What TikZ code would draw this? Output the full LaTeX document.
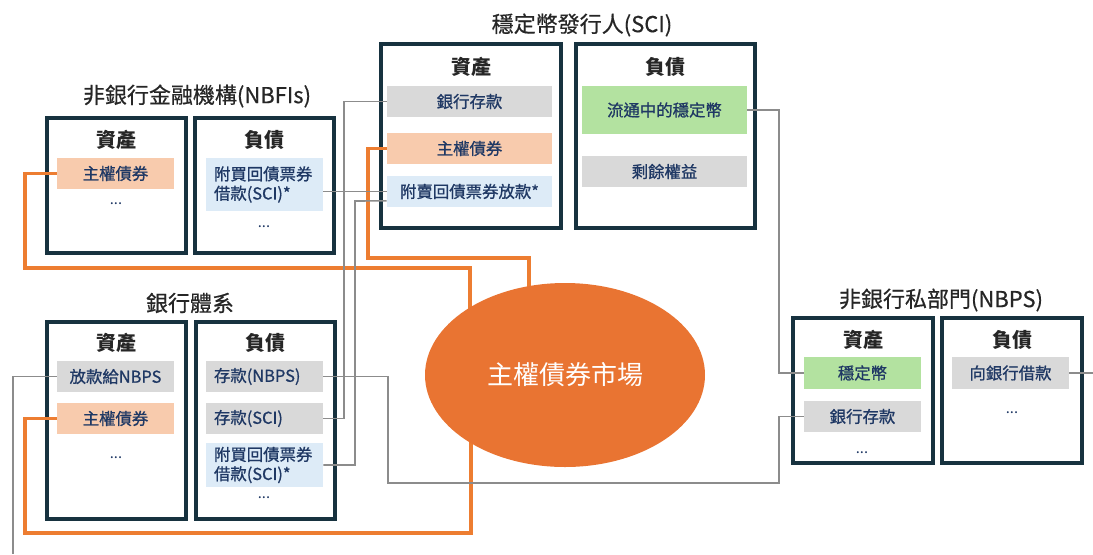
\documentclass[tikz,border=0pt]{standalone}
\usepackage{fontspec}
\setmainfont{Noto Sans CJK TC}
\newfontfamily\medfont[RawFeature={embolden=0.9}]{Noto Sans CJK TC}
\newfontfamily\ttlfont[RawFeature={embolden=0.5}]{Noto Sans CJK TC}
\usetikzlibrary{shapes.geometric}
\definecolor{boxc}{HTML}{17323F}
\definecolor{navy}{HTML}{1F3864}
\definecolor{hdrc}{HTML}{262626}
\definecolor{salmon}{HTML}{F8CBAD}
\definecolor{lblue}{HTML}{DDEBF7}
\definecolor{lgray}{HTML}{D9D9D9}
\definecolor{lgreen}{HTML}{B3E2A0}
\definecolor{orl}{HTML}{ED7D31}
\definecolor{ellc}{HTML}{E97432}
\definecolor{grl}{HTML}{8C8C8C}
\tikzset{
  grp/.style={draw=boxc, line width=2.3pt, inner sep=0},
  sz/.style 2 args={minimum width=#1*0.75pt, minimum height=#2*0.75pt},
  item/.style={inner sep=0, text=navy, font=\medfont\fontsize{12.3}{14.5}\selectfont},
  litem/.style={item, align=left, text width=75.75pt, inner xsep=6pt},
  hdr/.style={font=\fontsize{15}{18}\selectfont\bfseries, text=hdrc},
  ttl/.style={font=\ttlfont\fontsize{16.5}{20}\selectfont, text=hdrc},
  dotsty/.style={text=navy, font=\fontsize{11}{13}\selectfont},
  oline/.style={draw=orl, line width=2.3pt},
  gline/.style={draw=grl, line width=1.2pt},
}
\begin{document}
\begin{tikzpicture}[x=0.75pt,y=-0.75pt]
\useasboundingbox (0,0) rectangle (1093,554);

% ---------- group boxes ----------
\node[grp, sz={139}{135}] (nbfiA) at (116.5,185.5) {};
\node[grp, sz={139}{135}] (nbfiL) at (264.5,185.5) {};
\node[grp, sz={180}{184}] (sciA) at (471,136) {};
\node[grp, sz={179}{184}] (sciL) at (665.5,136) {};
\node[grp, sz={139}{197}] (bankA) at (116.5,420.5) {};
\node[grp, sz={139}{197}] (bankL) at (265.5,420.5) {};
\node[grp, sz={140}{145}] (nbpsA) at (863,390.5) {};
\node[grp, sz={140}{145}] (nbpsL) at (1012,390.5) {};

% ---------- titles ----------
\node[ttl] (tNbfi) at (197,96) {非銀行金融機構(NBFIs)};
\node[ttl] (tSci) at (582,25) {穩定幣發行人(SCI)};
\node[ttl] (tBank) at (190,303) {銀行體系};
\node[ttl] (tNbps) at (941,300) {非銀行私部門(NBPS)};

% ---------- headers ----------
\node[hdr] (hNbfiA) at (116.5,140) {資產};
\node[hdr] (hNbfiL) at (264.5,140) {負債};
\node[hdr] (hSciA) at (471,67) {資產};
\node[hdr] (hSciL) at (665.5,67) {負債};
\node[hdr] (hBankA) at (116.5,343) {資產};
\node[hdr] (hBankL) at (265.5,343) {負債};
\node[hdr] (hNbpsA) at (863,340) {資產};
\node[hdr] (hNbpsL) at (1012,340) {負債};

% ---------- connector end points ----------
\coordinate (e1) at (470,375);
\coordinate (e2) at (529,375);
\coordinate (e3) at (471,375);
\coordinate (lend) at (13,554);
\coordinate (rend) at (1093,373);

% ---------- items ----------
% NBFI
\node[item, fill=salmon, sz={117}{31}] (nbfiBond) at (115.5,173.5) {主權債券};
\node[dotsty] (nbfiD1) at (116,204) {...};
\node[litem, fill=lblue, minimum height=39.75pt] (nbfiRepo) at (264.5,184.5) {附買回債票券\\借款(SCI)*};
\node[dotsty] (nbfiD2) at (264,227) {...};
% SCI
\node[item, fill=lgray, sz={165}{31}] (sciDep) at (469.5,101.5) {銀行存款};
\node[item, fill=salmon, sz={165}{31}] (sciBond) at (469.5,148.5) {主權債券};
\node[item, fill=lblue, sz={165}{31}] (sciRepo) at (469.5,191.5) {附賣回債票券放款*};
\node[item, fill=lgreen, sz={165}{48}] (sciCoin) at (664.5,110) {流通中的穩定幣};
\node[item, fill=lgray, sz={165}{31}] (sciEq) at (664.5,171.5) {剩餘權益};
% Bank
\node[item, fill=lgray, sz={117}{31}] (bankLoan) at (115.5,376.5) {放款給NBPS};
\node[item, fill=salmon, sz={117}{31}] (bankBond) at (115.5,418.5) {主權債券};
\node[dotsty] (bankD1) at (116,458) {...};
\node[litem, fill=lgray, minimum height=23.25pt] (bankDepN) at (264.5,376.5) {存款(NBPS)};
\node[litem, fill=lgray, minimum height=23.25pt] (bankDepS) at (264.5,418.5) {存款(SCI)};
\node[litem, fill=lblue, minimum height=33pt] (bankRepo) at (264.5,465) {附買回債票券\\借款(SCI)*};
\node[dotsty] (bankD2) at (264,498) {...};
% NBPS
\node[item, fill=lgreen, sz={117}{32}] (nbpsCoin) at (862.5,373) {穩定幣};
\node[item, fill=lgray, sz={117}{31}] (nbpsDep) at (862.5,416.5) {銀行存款};
\node[dotsty] (nbpsD1) at (862,453) {...};
\node[item, fill=lgray, sz={117}{32}] (nbpsLoan) at (1010.5,373) {向銀行借款};
\node[dotsty] (nbpsD2) at (1012,413) {...};

% orange connectors
\draw[oline] (nbfiBond.west) -| (25,268) -| (e1);
\draw[oline] (sciBond.west) -| (368,258) -| (e2);
\draw[oline] (bankBond.west) -| (25,533) -| (e3);

% gray connectors
\draw[gline] (nbfiRepo.east |- sciRepo.west) -- (sciRepo.west);
\draw[gline] (bankDepS.east) -| (344,101.5) -- (sciDep.west);
\draw[gline] (bankRepo.east) -| (355,201) -- ([yshift=-7pt]sciRepo.west);
\draw[gline] (bankDepN.east) -| (388,483) -| (779,416.5) -- (nbpsDep.west);
\draw[gline] (sciCoin.east) -| (779,373) -- (nbpsCoin.west);
\draw[gline] (bankLoan.west) -| (lend);
\draw[gline] (nbpsLoan.east) -- (rend);

% ---------- market ellipse ----------
\node[ellipse, fill=ellc, inner sep=0, minimum width=210pt, minimum height=138pt,
      text=white, font=\fontsize{19.5}{23}\selectfont] (ell) at (565,375) {主權債券市場};
\end{tikzpicture}
\end{document}
